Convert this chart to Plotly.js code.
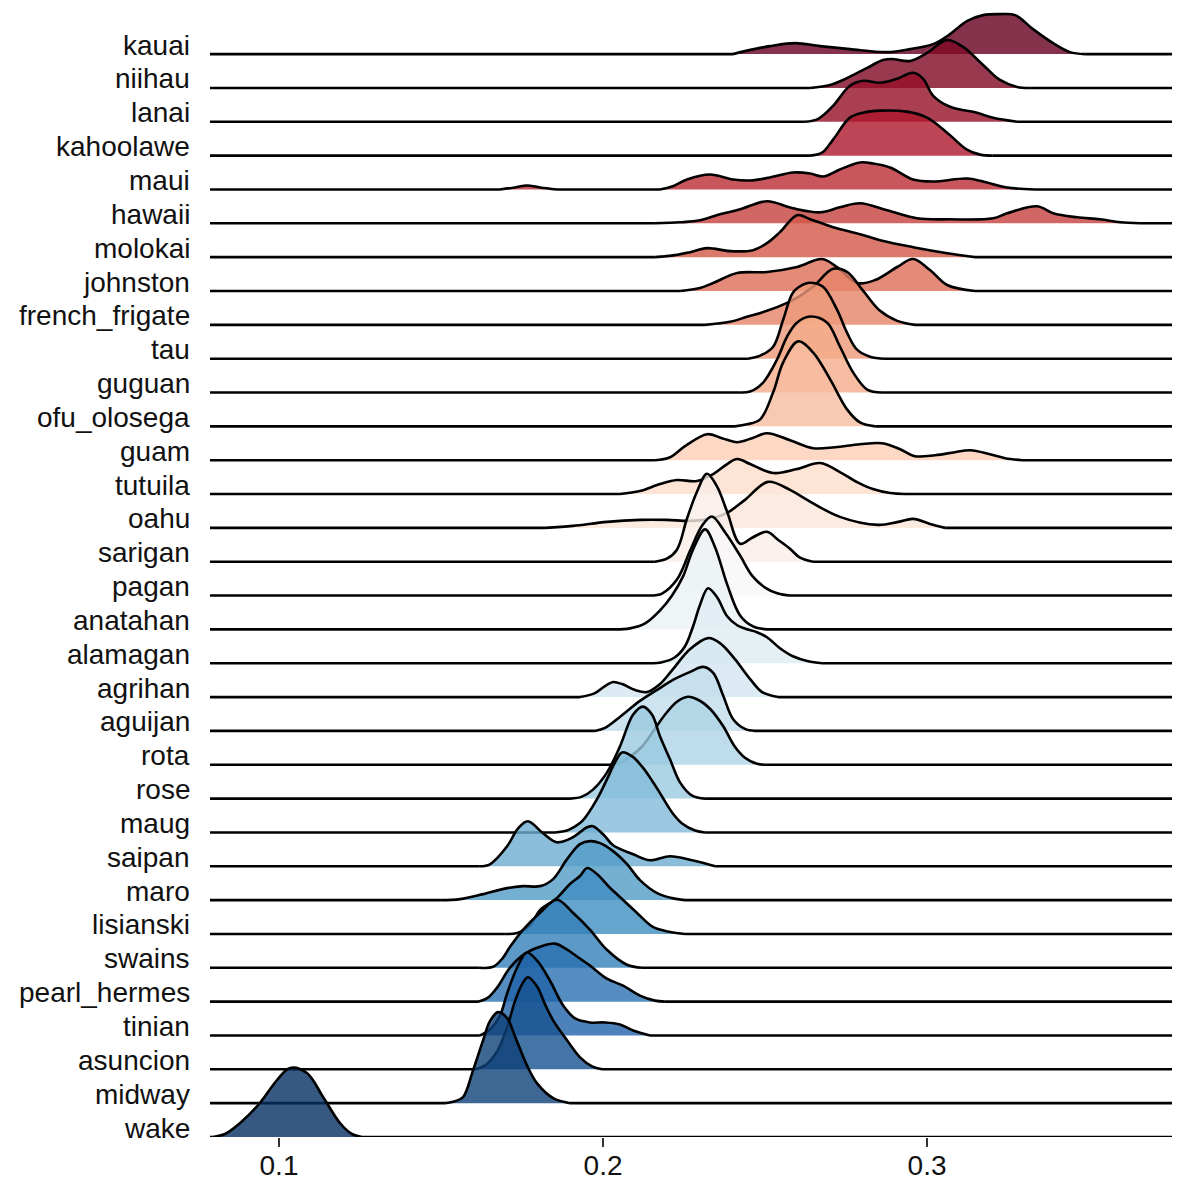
<!DOCTYPE html>
<html>
<head>
<meta charset="utf-8">
<script src="https://cdn.plot.ly/plotly-3.0.1.min.js"></script>
<style>
  html, body { margin: 0; padding: 0; background: #ffffff; }
  #chart { width: 1186px; height: 1183px; }
</style>
</head>
<body>
<div id="chart"></div>
<script>
// Category order, top to bottom
const islands = ["kauai","niihau","lanai","kahoolawe","maui","hawaii","molokai","johnston",
  "french_frigate","tau","guguan","ofu_olosega","guam","tutuila","oahu","sarigan","pagan",
  "anatahan","alamagan","agrihan","aguijan","rota","rose","maug","saipan","maro","lisianski",
  "swains","pearl_hermes","tinian","asuncion","midway","wake"];

// Density curves: x values and relative density heights
const x_kauai = [0.2401,0.2438,0.2515,0.2593,0.2670,0.2762,0.2877,0.2948,0.3019,0.3071,0.3123,0.3173,0.3225,0.3272,0.3327,0.3389,0.3441,0.3488];
const d_kauai = [0,3,8,11,8,5,2,5,10,20,33,39,40,39,25,11,2,0];
const x_niihau = [0.2639,0.2701,0.2741,0.2815,0.2864,0.2892,0.2948,0.3000,0.3062,0.3111,0.3173,0.3225,0.3278,0.3318];
const d_niihau = [0,3,8,20,28,29,27,35,48,41,23,8,1,0];
const x_lanai = [0.2623,0.2664,0.2710,0.2762,0.2803,0.2855,0.2908,0.2957,0.2988,0.3019,0.3071,0.3154,0.3204,0.3278];
const d_lanai = [0,3,16,36,41,39,43,49,43,26,15,9,4,0];
const x_kahoolawe = [0.2639,0.2676,0.2710,0.2762,0.2803,0.2855,0.2938,0.3000,0.3062,0.3123,0.3164,0.3201];
const d_kahoolawe = [0,3,16,38,43,45,44,38,23,6,1,0];
const x_maui = [0.1682,0.1728,0.1765,0.1806,0.1858,0.2176,0.2213,0.2259,0.2330,0.2401,0.2454,0.2515,0.2586,0.2639,0.2679,0.2731,0.2793,0.2833,0.2886,0.2957,0.3019,0.3123,0.3173,0.3247,0.3333];
const d_maui = [0,2,4,2,0,0,3,10,15,10,9,12,17,16,13,20,27,26,22,10,8,11,8,2,0];
const x_hawaii = [0.2160,0.2238,0.2299,0.2361,0.2423,0.2506,0.2586,0.2670,0.2731,0.2793,0.2877,0.2969,0.3071,0.3204,0.3247,0.3340,0.3389,0.3463,0.3534,0.3596,0.3657];
const d_hawaii = [0,1,3,9,14,22,15,11,16,20,13,5,4,5,10,17,10,6,4,1,0];
const x_molokai = [0.2160,0.2222,0.2269,0.2321,0.2392,0.2463,0.2506,0.2546,0.2599,0.2639,0.2710,0.2793,0.2855,0.2957,0.3062,0.3148];
const d_molokai = [0,2,5,9,6,7,14,25,42,38,30,23,17,10,4,0];
const x_johnston = [0.2238,0.2299,0.2340,0.2414,0.2506,0.2599,0.2676,0.2722,0.2784,0.2840,0.2908,0.2957,0.3009,0.3062,0.3148];
const d_johnston = [0,3,8,18,19,24,32,24,8,11,24,32,21,6,0];
const x_french_frigate = [0.2315,0.2392,0.2444,0.2506,0.2568,0.2608,0.2648,0.2710,0.2753,0.2803,0.2855,0.2908,0.2963];
const d_french_frigate = [0,3,8,14,22,29,38,56,53,34,14,4,0];
const x_tau = [0.2447,0.2485,0.2525,0.2556,0.2586,0.2617,0.2639,0.2679,0.2722,0.2753,0.2784,0.2824,0.2870];
const d_tau = [0,3,12,39,66,74,76,72,49,26,9,2,0];
const x_guguan = [0.2423,0.2454,0.2494,0.2537,0.2568,0.2599,0.2639,0.2691,0.2731,0.2772,0.2815,0.2861];
const d_guguan = [0,1,10,33,56,70,76,70,46,20,3,0];
const x_ofu_olosega = [0.2407,0.2444,0.2485,0.2525,0.2556,0.2602,0.2648,0.2701,0.2753,0.2793,0.2840];
const d_ofu_olosega = [0,2,7,34,64,85,74,47,17,4,0];
const x_guam = [0.2160,0.2207,0.2253,0.2321,0.2367,0.2414,0.2460,0.2506,0.2577,0.2648,0.2716,0.2793,0.2861,0.2917,0.2963,0.3025,0.3086,0.3133,0.3194,0.3241,0.3293];
const d_guam = [0,3,14,26,22,18,22,27,20,12,13,16,17,11,4,5,8,10,6,2,0];
const x_tutuila = [0.2052,0.2114,0.2176,0.2228,0.2290,0.2340,0.2383,0.2414,0.2454,0.2525,0.2599,0.2670,0.2731,0.2784,0.2833,0.2886,0.2932];
const d_tutuila = [0,3,10,14,13,20,30,35,30,21,25,31,22,12,5,1,0];
const x_oahu = [0.1821,0.1907,0.2012,0.2114,0.2197,0.2269,0.2330,0.2383,0.2438,0.2509,0.2577,0.2630,0.2731,0.2849,0.2911,0.2957,0.3009,0.3056];
const d_oahu = [0,2,6,8,8,7,9,15,28,46,38,28,11,3,6,9,4,0];
const x_sarigan = [0.2160,0.2197,0.2228,0.2259,0.2290,0.2321,0.2352,0.2383,0.2423,0.2460,0.2506,0.2540,0.2577,0.2608,0.2648];
const d_sarigan = [0,3,12,43,70,88,75,50,18,24,30,22,13,4,0];
const x_pagan = [0.2145,0.2182,0.2228,0.2269,0.2306,0.2336,0.2377,0.2423,0.2460,0.2500,0.2540,0.2577];
const d_pagan = [0,2,16,45,70,79,63,40,20,8,2,0];
const x_anatahan = [0.2037,0.2083,0.2130,0.2176,0.2213,0.2247,0.2278,0.2315,0.2346,0.2383,0.2423,0.2463,0.2506];
const d_anatahan = [0,1,6,19,34,53,80,100,82,45,14,3,0];
const x_alamagan = [0.2145,0.2182,0.2222,0.2253,0.2278,0.2299,0.2324,0.2352,0.2383,0.2414,0.2444,0.2475,0.2506,0.2546,0.2586,0.2633,0.2676];
const d_alamagan = [0,1,6,17,37,58,75,66,47,38,34,31,26,15,7,2,0];
const x_agrihan = [0.1929,0.1975,0.2006,0.2031,0.2059,0.2099,0.2136,0.2176,0.2216,0.2269,0.2324,0.2361,0.2407,0.2454,0.2491,0.2540];
const d_agrihan = [0,4,11,15,13,7,5,13,28,48,59,54,38,18,5,0];
const x_aguijan = [0.1975,0.2006,0.2052,0.2114,0.2167,0.2216,0.2269,0.2309,0.2340,0.2370,0.2401,0.2438,0.2469];
const d_aguijan = [0,3,14,30,41,51,59,64,58,36,12,2,0];
const x_rota = [0.2006,0.2046,0.2083,0.2120,0.2154,0.2191,0.2228,0.2262,0.2299,0.2330,0.2370,0.2407,0.2438,0.2475,0.2500];
const d_rota = [0,1,8,18,33,50,63,68,64,56,39,18,7,1,0];
const x_rose = [0.1898,0.1935,0.1969,0.2012,0.2052,0.2093,0.2123,0.2151,0.2176,0.2207,0.2238,0.2275,0.2315];
const d_rose = [0,2,9,26,52,84,92,84,62,39,16,3,0];
const x_maug = [0.1852,0.1889,0.1914,0.1938,0.1981,0.2012,0.2037,0.2059,0.2090,0.2120,0.2151,0.2182,0.2213,0.2244,0.2284,0.2315];
const d_maug = [0,2,6,12,33,53,70,80,76,66,52,36,20,9,2,0];
const x_saipan = [0.1620,0.1651,0.1704,0.1738,0.1768,0.1815,0.1858,0.1907,0.1951,0.1969,0.2006,0.2031,0.2093,0.2145,0.2207,0.2275,0.2346];
const d_saipan = [0,2,20,38,45,33,24,29,39,40,30,21,12,6,10,6,0];
const x_maro = [0.1497,0.1559,0.1630,0.1704,0.1753,0.1806,0.1846,0.1889,0.1929,0.1960,0.1991,0.2031,0.2074,0.2114,0.2167,0.2213,0.2253];
const d_maro = [0,1,6,12,14,14,21,41,56,59,57,49,36,20,7,2,0];
const x_lisianski = [0.1698,0.1735,0.1775,0.1806,0.1858,0.1898,0.1929,0.1951,0.1981,0.2022,0.2052,0.2105,0.2154,0.2207,0.2253];
const d_lisianski = [0,1,9,24,36,50,58,66,60,46,37,21,7,2,0];
const x_swains = [0.1620,0.1661,0.1691,0.1713,0.1753,0.1806,0.1858,0.1907,0.1960,0.2012,0.2074,0.2120];
const d_swains = [0,1,10,21,38,55,68,55,38,18,3,0];
const x_pearl_hermes = [0.1614,0.1645,0.1673,0.1713,0.1759,0.1806,0.1852,0.1889,0.1929,0.1960,0.2012,0.2062,0.2114,0.2160,0.2191];
const d_pearl_hermes = [0,4,14,34,48,55,58,52,43,36,23,16,6,1,0];
const x_tinian = [0.1620,0.1651,0.1682,0.1704,0.1735,0.1765,0.1796,0.1836,0.1877,0.1914,0.1960,0.2006,0.2052,0.2093,0.2145];
const d_tinian = [0,6,20,42,68,83,75,55,30,17,13,13,11,5,0];
const x_asuncion = [0.1605,0.1636,0.1673,0.1704,0.1728,0.1750,0.1768,0.1796,0.1821,0.1846,0.1889,0.1929,0.1966,0.1997];
const d_asuncion = [0,4,18,42,68,85,92,83,65,49,29,12,3,0];
const x_midway = [0.1512,0.1543,0.1568,0.1599,0.1630,0.1651,0.1676,0.1704,0.1728,0.1765,0.1796,0.1846,0.1898];
const d_midway = [0,2,6,33,63,82,91,85,67,38,20,5,0];
const x_wake = [0.0796,0.0833,0.0880,0.0941,0.0994,0.1034,0.1086,0.1136,0.1188,0.1225,0.1256];
const d_wake = [0,3,14,34,57,69,64,40,14,3,0];

const xTickVals = [0.1, 0.2, 0.3];
const xTickText = ["0.1", "0.2", "0.3"];

// ---------------------------------------------------------------
const curves = {
  kauai:[x_kauai,d_kauai], niihau:[x_niihau,d_niihau], lanai:[x_lanai,d_lanai],
  kahoolawe:[x_kahoolawe,d_kahoolawe], maui:[x_maui,d_maui], hawaii:[x_hawaii,d_hawaii],
  molokai:[x_molokai,d_molokai], johnston:[x_johnston,d_johnston],
  french_frigate:[x_french_frigate,d_french_frigate], tau:[x_tau,d_tau], guguan:[x_guguan,d_guguan],
  ofu_olosega:[x_ofu_olosega,d_ofu_olosega], guam:[x_guam,d_guam], tutuila:[x_tutuila,d_tutuila],
  oahu:[x_oahu,d_oahu], sarigan:[x_sarigan,d_sarigan], pagan:[x_pagan,d_pagan],
  anatahan:[x_anatahan,d_anatahan], alamagan:[x_alamagan,d_alamagan], agrihan:[x_agrihan,d_agrihan],
  aguijan:[x_aguijan,d_aguijan], rota:[x_rota,d_rota], rose:[x_rose,d_rose], maug:[x_maug,d_maug],
  saipan:[x_saipan,d_saipan], maro:[x_maro,d_maro], lisianski:[x_lisianski,d_lisianski],
  swains:[x_swains,d_swains], pearl_hermes:[x_pearl_hermes,d_pearl_hermes], tinian:[x_tinian,d_tinian],
  asuncion:[x_asuncion,d_asuncion], midway:[x_midway,d_midway], wake:[x_wake,d_wake]
};

const X_RANGE = [0.0787, 0.3756];
const ROW_PX = 33.84;          // pixel spacing of rows; density units are in pixels
const PLOT_H = 1137;
const Y_TOP = PLOT_H / ROW_PX;
const LINE_W = 2.6;
const FONT = 'Liberation Sans, Arial, Helvetica, sans-serif';

const RDBU = ['#67001f','#b2182b','#d6604d','#f4a582','#fddbc7','#f7f7f7','#d1e5f0','#92c5de','#4393c3','#2166ac','#053061'];
function hex2rgb(h){ return [parseInt(h.slice(1,3),16), parseInt(h.slice(3,5),16), parseInt(h.slice(5,7),16)]; }
function colorAt(t, a){
  const p = t * (RDBU.length - 1);
  const i = Math.min(Math.floor(p), RDBU.length - 2);
  const f = p - i;
  const c0 = hex2rgb(RDBU[i]), c1 = hex2rgb(RDBU[i+1]);
  const c = c0.map((v, j) => Math.round(v + (c1[j] - v) * f));
  return `rgba(${c[0]},${c[1]},${c[2]},${a})`;
}

// split a ridge into runs that start and end at zero density
function segmentsOf(ds){
  const segs = []; let start = null;
  for (let i = 0; i < ds.length; i++) {
    if (start === null) {
      if (ds[i] === 0 && i + 1 < ds.length && ds[i+1] > 0) start = i;
    } else if (ds[i] === 0) {
      segs.push([start, i]); start = null;
      if (i + 1 < ds.length && ds[i+1] > 0) start = i;
    }
  }
  return segs;
}

const n = islands.length;
const traces = [];
const annotations = [];
islands.forEach((name, k) => {
  const base = n - 1 - k;
  const [xs, ds] = curves[name];
  const segs = segmentsOf(ds);
  const cx = [], cy = [], bx = [X_RANGE[0]], by = [base];
  segs.forEach(([a, b], si) => {
    if (si > 0) { cx.push(null); cy.push(null); }
    for (let i = a; i <= b; i++) { cx.push(xs[i]); cy.push(base + ds[i] / ROW_PX); }
    bx.push(xs[a], null, xs[b]); by.push(base, null, base);
  });
  bx.push(X_RANGE[1]); by.push(base);

  traces.push({
    type: 'scatter', mode: 'lines', x: cx, y: cy,
    fill: 'toself', fillcolor: colorAt(k / (n - 1), 0.8),
    line: {width: 0, shape: 'spline', smoothing: 1, simplify: false},
    connectgaps: false, hoverinfo: 'skip', showlegend: false
  });
  traces.push({
    type: 'scatter', mode: 'lines', x: bx, y: by,
    line: {width: LINE_W, color: '#000000'},
    connectgaps: false, hoverinfo: 'skip', showlegend: false
  });
  traces.push({
    type: 'scatter', mode: 'lines', x: cx, y: cy,
    line: {width: LINE_W, color: '#000000', shape: 'spline', smoothing: 1, simplify: false},
    connectgaps: false, hoverinfo: 'skip', showlegend: false
  });
  annotations.push({
    xref: 'paper', yref: 'y', x: 0, y: base,
    text: name, showarrow: false, xanchor: 'right', yanchor: 'middle',
    xshift: -18, yshift: 9,
    font: {family: FONT, size: 28, color: '#111111'}
  });
});

const layout = {
  width: 1186, height: 1183,
  margin: {l: 210, r: 14, t: 0, b: 1183 - PLOT_H},
  paper_bgcolor: '#ffffff', plot_bgcolor: '#ffffff',
  showlegend: false,
  xaxis: {
    range: X_RANGE, tickvals: xTickVals, ticktext: xTickText,
    ticks: 'outside', ticklen: 9, tickwidth: 2, tickcolor: '#333333',
    ticklabelstandoff: -6,
    showgrid: false, zeroline: false, showline: false,
    tickfont: {family: FONT, size: 28, color: '#111111'}
  },
  yaxis: {
    range: [0, Y_TOP], showticklabels: false, showgrid: false, zeroline: false,
    showline: false, ticks: ''
  },
  annotations: annotations
};

Plotly.newPlot('chart', traces, layout, {displayModeBar: false, staticPlot: true});
</script>
</body>
</html>
